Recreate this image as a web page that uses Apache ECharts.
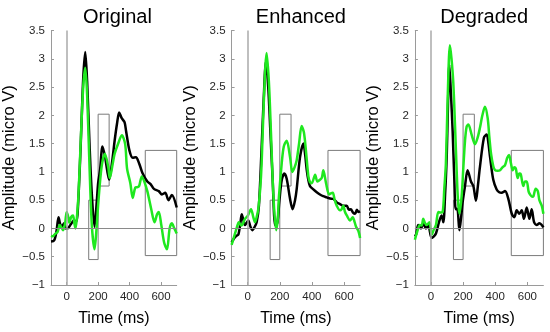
<!DOCTYPE html>
<html>
<head>
<meta charset="utf-8">
<script src="https://cdn.jsdelivr.net/npm/echarts@6/dist/echarts.min.js"></script>
<style>html,body{margin:0;padding:0;background:#fff;}#c{width:550px;height:332px;}</style>
</head>
<body>
<div id="c"></div>
<script>
const panelTitles = ['Original', 'Enhanced', 'Degraded'];
const xTicks = [0, 200, 400, 600];
const yMin = -1, yMax = 3.5, yStep = 0.5;
const xMin = -100, xMax = 700;
const rects = [[140, 200, -0.55, 0.5], [200, 270, 0.75, 2.02], [500, 700, -0.48, 1.38]];

const origBlack = [[-100,-0.23],[-80,-0.21],[-65,-0.05],[-52,0.2],[-42,0.08],[-33,0.03],[-16,0.09],[-5,0.0],[5,0.0],[25,0.07],[46,0.14],[62,0.12],[72,0.4],[88,1.4],[105,2.65],[118,3.12],[130,2.6],[145,1.5],[160,0.6],[177,0.03],[192,0.5],[200,0.8],[212,1.03],[228,1.45],[245,1.25],[270,0.86],[290,1.2],[305,1.55],[320,1.85],[334,2.05],[350,1.95],[368,1.88],[378,1.72],[399,1.38],[420,1.25],[440,1.26],[461,1.15],[482,0.98],[513,0.83],[535,0.78],[555,0.7],[586,0.66],[606,0.6],[627,0.63],[648,0.5],[669,0.59],[700,0.37]];
const origGreen = [[-100,-0.13],[-89,-0.14],[-75,-0.1],[-58,-0.06],[-44,0.06],[-23,-0.03],[-10,0.1],[0,0.29],[10,0.2],[17,0.1],[28,0.2],[40,0.23],[48,0.1],[56,0.0],[65,0.2],[75,0.6],[90,1.6],[105,2.5],[118,2.84],[130,2.35],[145,1.1],[160,0.05],[177,-0.37],[190,0.0],[201,0.45],[222,1.09],[243,1.32],[264,1.09],[274,0.89],[290,1.1],[305,1.32],[326,1.49],[351,1.65],[372,1.49],[384,1.06],[405,0.8],[420,0.54],[436,0.72],[450,0.73],[461,0.75],[478,0.92],[495,0.82],[513,0.66],[538,0.34],[559,0.11],[575,0.25],[586,0.29],[602,0.06],[620,-0.25],[638,-0.37],[655,0.0],[669,0.09],[685,0.0],[700,-0.09]];
const enhBlack = [[-100,-0.25],[-83,-0.17],[-70,-0.13],[-58,-0.11],[-45,0.1],[-37,0.25],[-27,0.15],[-17,0.06],[4,0.14],[15,0.05],[29,-0.03],[42,0.02],[56,0.11],[70,0.4],[85,1.3],[100,2.3],[114,2.95],[128,2.5],[140,1.8],[155,0.9],[172,0.05],[185,0.1],[198,0.5],[212,0.85],[228,0.97],[243,0.88],[264,0.52],[280,0.34],[295,0.5],[305,0.69],[326,1.26],[347,1.5],[358,1.3],[368,1.03],[378,0.85],[388,0.75],[409,0.69],[430,0.64],[450,0.6],[470,0.57],[492,0.55],[513,0.53],[534,0.52],[555,0.46],[575,0.43],[596,0.4],[617,0.4],[630,0.33],[642,0.34],[656,0.28],[669,0.26],[680,0.33],[690,0.29],[700,0.3]];
const enhGreen = [[-100,-0.29],[-85,-0.15],[-69,0.0],[-55,0.11],[-40,0.05],[-30,0.08],[-17,0.17],[0,0.22],[21,0.34],[35,0.2],[46,0.11],[56,0.2],[66,0.34],[78,0.7],[87,1.15],[100,2.2],[118,3.1],[132,2.6],[145,1.7],[160,0.6],[177,-0.03],[187,0.15],[195,0.57],[212,1.15],[225,1.45],[243,1.55],[264,1.26],[278,1.0],[292,1.08],[305,1.2],[320,1.5],[336,1.81],[350,1.7],[362,1.4],[378,0.92],[388,0.82],[399,0.8],[420,0.95],[434,0.83],[450,0.86],[462,0.9],[471,1.03],[488,0.8],[507,0.6],[518,0.62],[530,0.63],[542,0.5],[555,0.4],[575,0.32],[585,0.34],[596,0.4],[605,0.3],[617,0.23],[638,0.14],[654,0.2],[665,0.12],[675,0.03],[690,-0.05],[700,-0.17]];
const degBlack = [[-100,-0.14],[-92,-0.1],[-79,0.06],[-62,0.0],[-48,0.09],[-31,0.0],[-17,0.06],[4,-0.17],[18,-0.14],[31,-0.09],[50,0.11],[66,0.23],[77,0.11],[88,0.6],[98,1.26],[106,2.2],[114,2.9],[124,2.4],[135,1.72],[145,0.9],[154,0.34],[164,0.35],[177,-0.03],[188,0.2],[197,0.46],[212,0.75],[228,1.03],[249,0.83],[264,0.75],[280,0.49],[292,0.75],[305,1.09],[330,1.61],[347,1.66],[358,1.5],[368,1.26],[388,0.86],[409,0.69],[425,0.64],[440,0.63],[461,0.66],[482,0.52],[503,0.26],[519,0.2],[534,0.32],[550,0.26],[565,0.32],[579,0.17],[596,0.37],[613,0.17],[627,0.34],[642,0.11],[658,0.06],[675,0.09],[690,0.06],[700,0.02]];
const degGreen = [[-100,-0.2],[-85,-0.05],[-69,0.06],[-58,0.05],[-48,0.17],[-38,0.1],[-27,0.06],[-10,0.11],[4,-0.11],[18,-0.02],[31,0.06],[46,0.29],[60,0.28],[73,0.29],[83,0.7],[93,1.15],[105,2.4],[118,3.24],[128,3.0],[139,2.58],[150,1.8],[160,1.03],[168,0.5],[177,0.26],[191,0.57],[202,1.1],[212,1.55],[222,1.8],[233,1.84],[253,1.66],[274,1.49],[290,1.6],[305,1.78],[320,2.0],[336,2.15],[353,1.95],[364,1.6],[374,1.32],[388,1.1],[399,1.03],[415,1.02],[430,1.03],[445,1.08],[461,1.12],[475,1.25],[486,1.3],[498,1.15],[509,1.03],[518,1.08],[528,1.06],[540,0.89],[550,0.97],[559,0.96],[575,0.75],[586,0.83],[596,0.83],[608,0.65],[617,0.6],[630,0.56],[638,0.57],[652,0.7],[665,0.66],[675,0.5],[690,0.4],[700,0.26]];

const blackSeries = [origBlack, enhBlack, degBlack];
const greenSeries = [origGreen, enhGreen, degGreen];

const gridLefts = [48.2, 231.6, 414.9];
const gridW = 128.5, gridTop = 30.5, gridH = 261.5;
const GREEN = '#1fe81f';
const AXIS = '#9a9a9a';
const TXT = "'Liberation Sans', Arial, sans-serif";
const NUM = "'Liberation Sans', Arial, sans-serif";

const option = {
  animation: false,
  backgroundColor: '#fff',
  title: [], grid: [], xAxis: [], yAxis: [], series: []
};

for (let i = 0; i < 3; i++) {
  option.title.push({
    text: panelTitles[i], left: gridLefts[i] + gridW / 2, top: 2, textAlign: 'center',
    textStyle: { fontFamily: TXT, fontSize: 20, fontWeight: 'normal', color: '#000' }
  });
  option.grid.push({ left: gridLefts[i], top: gridTop, width: gridW, height: gridH });
  option.xAxis.push({
    type: 'value', gridIndex: i, min: xMin, max: xMax,
    name: 'Time (ms)', nameLocation: 'middle', nameGap: 26,
    nameTextStyle: { fontFamily: TXT, fontSize: 16, color: '#000' },
    axisLine: { show: true, onZero: false, lineStyle: { color: AXIS, width: 1 } },
    axisTick: { show: true, inside: true, length: 3, customValues: xTicks, lineStyle: { color: AXIS } },
    axisLabel: { customValues: xTicks, fontFamily: NUM, fontSize: 11.5, color: '#262626', margin: 6 },
    splitLine: { show: false }
  });
  option.yAxis.push({
    type: 'value', gridIndex: i, min: yMin, max: yMax, interval: yStep,
    name: 'Amplitude (micro V)', nameLocation: 'middle', nameGap: 33,
    nameTextStyle: { fontFamily: TXT, fontSize: 16.5, color: '#000' },
    axisLine: { show: true, onZero: false, lineStyle: { color: AXIS, width: 1 } },
    axisTick: { show: true, inside: true, length: 3, lineStyle: { color: AXIS } },
    axisLabel: {
      fontFamily: NUM, fontSize: 11.5, color: '#262626', margin: 6,
      formatter: v => (v < 0 ? '\u2212' + Math.abs(v) : String(v))
    },
    splitLine: { show: false }
  });
  option.series.push({
    type: 'line', xAxisIndex: i, yAxisIndex: i, data: blackSeries[i],
    smooth: 0.3, showSymbol: false, symbol: 'none',
    lineStyle: { color: '#000', width: 2.5 }, itemStyle: { color: '#000' }, z: 3,
    markLine: {
      silent: true, symbol: 'none', animation: false, label: { show: false },
      data: [
        { xAxis: 0, lineStyle: { color: '#aaaaaa', width: 1.5, type: 'solid' } },
        { yAxis: 0, lineStyle: { color: '#8a8a8a', width: 1, type: 'solid' } }
      ]
    },
    markArea: {
      silent: true, label: { show: false },
      itemStyle: { color: 'rgba(0,0,0,0)', borderColor: '#7a7a7a', borderWidth: 1 },
      data: rects.map(r => [{ xAxis: r[0], yAxis: r[2] }, { xAxis: r[1], yAxis: r[3] }])
    }
  });
  option.series.push({
    type: 'line', xAxisIndex: i, yAxisIndex: i, data: greenSeries[i],
    smooth: 0.3, showSymbol: false, symbol: 'none',
    lineStyle: { color: GREEN, width: 2.5 }, itemStyle: { color: GREEN }, z: 4
  });
}

const chart = echarts.init(document.getElementById('c'), null, { renderer: 'canvas' });
chart.setOption(option);
</script>
</body>
</html>
